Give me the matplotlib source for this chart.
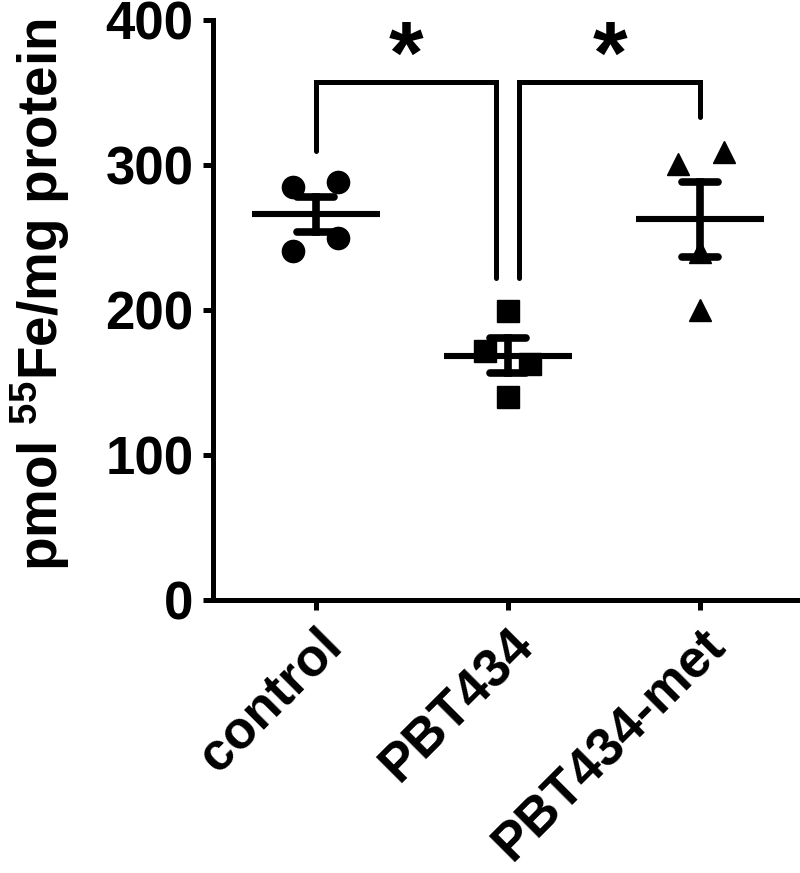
import numpy as np
import matplotlib.pyplot as plt

plt.rcParams['font.family'] = ['Liberation Sans', 'DejaVu Sans']
plt.rcParams['font.weight'] = 'bold'
plt.rcParams['mathtext.fontset'] = 'custom'
plt.rcParams['mathtext.rm'] = 'Liberation Sans:bold'
plt.rcParams['mathtext.it'] = 'Liberation Sans:bold'
plt.rcParams['mathtext.bf'] = 'Liberation Sans:bold'

groups = ['control', 'PBT434', 'PBT434-met']
control = [285, 288, 250, 241]
pbt434 = [199, 172, 163, 140]
pbt434_met = [301, 309, 200, 240]
values = [control, pbt434, pbt434_met]
markers = ['o', 's', '^']

# horizontal scatter of the points around each group
jitter = [[-0.12, 0.115, 0.115, -0.12],
          [0.0, -0.12, 0.115, 0.0],
          [-0.115, 0.125, 0.0, 0.0]]

fig = plt.figure(figsize=(8, 8.73), dpi=100)
ax = fig.add_axes([0.266, 0.3127, 0.73, 0.6643])

lw = 3.6
for i, (v, m) in enumerate(zip(values, markers)):
    v = np.array(v, dtype=float)
    ax.plot(i + np.array(jitter[i]), v, m, color='black', ms=16, ls='none', zorder=3)
    mean = v.mean()
    sem = v.std(ddof=1) / np.sqrt(len(v))
    ax.plot([i - 0.333, i + 0.333], [mean, mean], color='black', lw=4.4,
            solid_capstyle='butt', zorder=4)
    ax.plot([i, i], [mean - sem, mean + sem], color='black', lw=5.5, zorder=4)
    for y in (mean - sem, mean + sem):
        ax.plot([i - 0.095, i + 0.095], [y, y], color='black', lw=5.5,
                solid_capstyle='round', zorder=4)

# significance brackets
top = 357
ax.plot([0, 0, 0.94, 0.94], [310, top, top, 222], color='black', lw=lw,
        solid_capstyle='round', solid_joinstyle='miter', clip_on=False)
ax.plot([1.06, 1.06, 2, 2], [222, top, top, 333], color='black', lw=lw,
        solid_capstyle='round', solid_joinstyle='miter', clip_on=False)
ax.text(0.47, 357, '*', fontsize=64, ha='center', va='baseline', fontweight='bold')
ax.text(1.53, 357, '*', fontsize=64, ha='center', va='baseline', fontweight='bold')

ax.set_xlim(-0.536, 2.505)
ax.set_ylim(0, 400)
ax.set_yticks([0, 100, 200, 300, 400])
ax.set_xticks([0, 1, 2])
ax.set_xticklabels(groups, rotation=45, ha='right', rotation_mode='anchor')

for s in ['top', 'right']:
    ax.spines[s].set_visible(False)
for s in ['left', 'bottom']:
    ax.spines[s].set_linewidth(lw)
ax.tick_params(axis='both', length=7, width=lw, labelsize=38, pad=7)
for t in ax.get_xticklabels() + ax.get_yticklabels():
    t.set_fontweight('bold')

ax.set_ylabel(r'pmol $^{55}$Fe/mg protein', fontsize=39.5, fontweight='bold')
ax.yaxis.set_label_coords(-0.241, 0.526)

fig.savefig('out.png', dpi=100)
